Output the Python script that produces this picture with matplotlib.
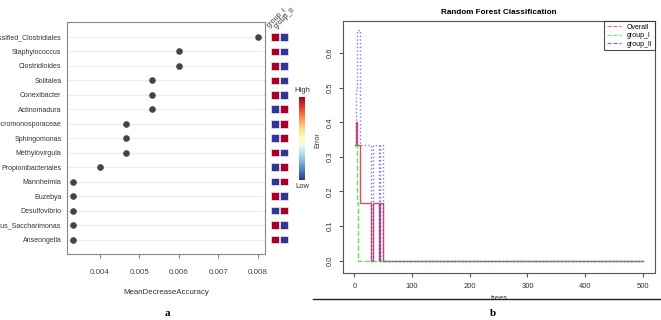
import numpy as np
import matplotlib
matplotlib.use('Agg')
import matplotlib.pyplot as plt
from matplotlib.lines import Line2D

plt.rcParams['font.family'] = ['Liberation Sans', 'DejaVu Sans']

# panel a: variable importance
taxa = ['unclassified_Clostridiales', 'Staphylococcus', 'Clostridioides', 'Solitalea',
        'Conexibacter', 'Actinomadura', 'Micromonosporaceae', 'Sphingomonas',
        'Methylovirgula', 'Propionibacteriales', 'Mannheimia', 'Euzebya',
        'Desulfovibrio', 'Candidatus_Saccharimonas', 'Anseongella']
mda = [0.0080, 0.0060, 0.0060, 0.00533, 0.00533, 0.00533, 0.00467, 0.00467,
       0.00467, 0.0040, 0.00333, 0.00333, 0.00333, 0.00333, 0.00333]
groups = ['group_I', 'group_II']
group_I_high = [1, 1, 1, 1, 1, 0, 0, 0, 1, 0, 0, 1, 0, 1, 1]
group_II_high = [0, 0, 0, 0, 0, 1, 1, 1, 0, 1, 1, 0, 1, 0, 0]

# panel b: OOB error rate (step change points)
overall_trees = [1, 3, 5, 9, 29, 33, 43, 45, 50, 500]
overall_err = [0.333, 0.4, 0.333, 0.1667, 0.0, 0.1667, 0.0, 0.1667, 0.0, 0.0]
gI_trees = [1, 4, 7, 500]
gI_err = [0.333, 0.1667, 0.0, 0.0]
gII_trees = [1, 2, 5, 9, 29, 33, 43, 45, 50, 500]
gII_err = [0.333, 0.5, 0.667, 0.333, 0.0, 0.333, 0.0, 0.333, 0.0, 0.0]

W, H = 661, 320
fig = plt.figure(figsize=(W / 100, H / 100), dpi=100)


def box(x0, y0, x1, y1):
    return [x0 / W, 1 - y1 / H, (x1 - x0) / W, (y1 - y0) / H]


# ---- panel a ----
ax = fig.add_axes(box(67, 22, 265, 254))
rows = np.arange(len(taxa))
for r in rows:
    ax.axhline(r, color='#ececec', lw=0.8, zorder=0)
ax.scatter(mda, rows, s=14, color='#444444', zorder=3)
ax.set_ylim(15, -1.03)
ax.set_xlim(0.00317, 0.00818)
ax.set_yticks(rows)
ax.set_yticklabels(taxa, fontsize=5.0, color='#333333')
ax.tick_params(axis='y', length=0, pad=4)
ax.set_xticks([0.004, 0.005, 0.006, 0.007, 0.008])
ax.set_xticklabels(['0.004', '0.005', '0.006', '0.007', '0.008'])
ax.tick_params(axis='x', labelsize=5.8, length=3, color='#888888', labelcolor='#444444', pad=8)
ax.set_xlabel('MeanDecreaseAccuracy', fontsize=5.7, color='#333333', labelpad=9)
for s in ax.spines.values():
    s.set_color('#888888')
    s.set_linewidth(0.8)

# heatmap
hx = fig.add_axes(box(270, 22, 289, 254))
hx.set_ylim(15, -1.03)
hx.set_xlim(-0.6, 1.6)
cmap = plt.get_cmap('RdYlBu_r')
hx.scatter(np.zeros(len(rows)), rows, marker='s', s=30, c=group_I_high, cmap=cmap,
           vmin=0, vmax=1, edgecolors='white', linewidths=0.4)
hx.scatter(np.ones(len(rows)), rows, marker='s', s=30, c=group_II_high, cmap=cmap,
           vmin=0, vmax=1, edgecolors='white', linewidths=0.4)
hx.axis('off')
for i, g in enumerate(groups):
    fig.text((271 + 7 * i) / W, 1 - (29 + 1 * i) / H, g, rotation=45, fontsize=5.3,
             color='#333333', ha='left', va='bottom', rotation_mode='anchor')

# colorbar
cax = fig.add_axes(box(299, 97, 305, 180))
sm = matplotlib.cm.ScalarMappable(cmap=cmap, norm=matplotlib.colors.Normalize(0, 1))
cb = fig.colorbar(sm, cax=cax)
cb.set_ticks([])
cb.outline.set_visible(False)
fig.text(302 / W, 1 - 90 / H, 'High', fontsize=5.5, ha='center', va='center', color='#333333')
fig.text(302 / W, 1 - 187 / H, 'Low', fontsize=5.5, ha='center', va='center', color='#333333')
fig.text(318 / W, 1 - 140 / H, 'Error', fontsize=5, rotation=90, ha='center', va='center', color='#333333')
fig.text(167 / W, 1 - 314 / H, 'a', fontsize=8, fontweight='bold', family='Liberation Serif',
         ha='center', va='center')

# ---- panel b ----
bx = fig.add_axes(box(343, 21, 655, 273))
bx.plot(overall_trees, overall_err, drawstyle='steps-post', color='#cc2244', lw=1.0, alpha=0.8)
bx.plot(gI_trees, gI_err, drawstyle='steps-post', color='#33dd33', lw=1.0, ls='--', alpha=0.8)
bx.plot(gII_trees, gII_err, drawstyle='steps-post', color='#4444ee', lw=1.0, ls=':', alpha=0.7)
bx.set_xlim(-19.7, 521)
bx.set_ylim(-0.036, 0.693)
bx.set_xticks([0, 100, 200, 300, 400, 500])
bx.set_yticks([0.0, 0.1, 0.2, 0.3, 0.4, 0.5, 0.6])
bx.set_yticklabels(['0.0', '0.1', '0.2', '0.3', '0.4', '0.5', '0.6'], rotation=90, va='center')
bx.tick_params(labelsize=5.5, length=3, color='#555555', labelcolor='#333333')
bx.tick_params(axis='x', pad=4)
bx.set_xlabel('trees', fontsize=5.5, color='#333333', labelpad=4)
bx.set_title('Random Forest Classification', fontsize=5.9, fontweight='bold', pad=5)
for s in bx.spines.values():
    s.set_color('#555555')
    s.set_linewidth(0.8)
handles = [Line2D([], [], color='#ee6666', ls='--', lw=0.8),
           Line2D([], [], color='#66ee66', ls='--', lw=0.8),
           Line2D([], [], color='#6666ee', ls='--', lw=0.8)]
leg = bx.legend(handles, ['Overall', 'group_I', 'group_II'], loc='upper right',
                fontsize=5, frameon=True, fancybox=False, borderaxespad=0,
                handlelength=2, labelspacing=0.2, borderpad=0.4)
leg.get_frame().set_edgecolor('#222222')
leg.get_frame().set_linewidth(0.8)

fig.add_artist(Line2D([313 / W, 1], [1 - 299 / H, 1 - 299 / H], color='#222222', lw=1.0))
fig.text(493 / W, 1 - 313 / H, 'b', fontsize=8, fontweight='bold', family='Liberation Serif',
         ha='center', va='center')

fig.savefig('out.png', dpi=100)
